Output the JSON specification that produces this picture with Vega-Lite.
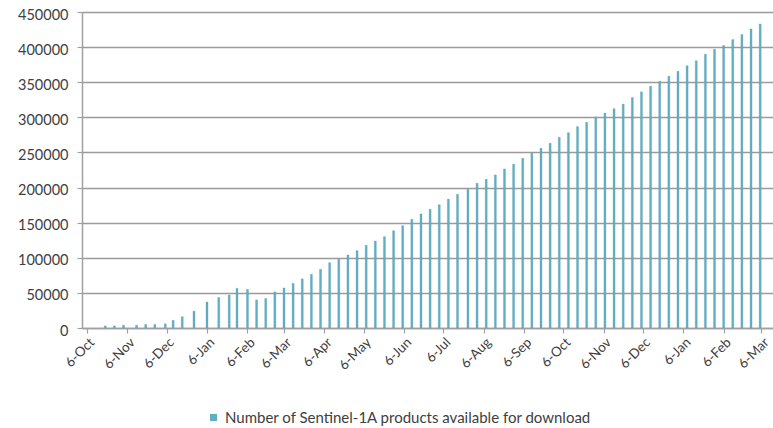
{
  "$schema": "https://vega.github.io/schema/vega-lite/v6.json",
  "autosize": {"type": "none"},
  "padding": {"left": 82, "top": 12, "right": 0, "bottom": 100},
  "width": 691,
  "height": 316,
  "background": "white",
  "data": {"values": [
    {"date": "2014-10-20", "products": 3000},
    {"date": "2014-10-27", "products": 3000},
    {"date": "2014-11-03", "products": 4000},
    {"date": "2014-11-13", "products": 4000},
    {"date": "2014-11-20", "products": 5000},
    {"date": "2014-11-27", "products": 5000},
    {"date": "2014-12-05", "products": 6000},
    {"date": "2014-12-11", "products": 11000},
    {"date": "2014-12-18", "products": 16000},
    {"date": "2014-12-27", "products": 24000},
    {"date": "2015-01-06", "products": 37000},
    {"date": "2015-01-15", "products": 43500},
    {"date": "2015-01-23", "products": 47000},
    {"date": "2015-01-29", "products": 56500},
    {"date": "2015-02-06", "products": 55000},
    {"date": "2015-02-13", "products": 40000},
    {"date": "2015-02-20", "products": 42000},
    {"date": "2015-02-27", "products": 51500},
    {"date": "2015-03-06", "products": 57000},
    {"date": "2015-03-13", "products": 63500},
    {"date": "2015-03-20", "products": 70000},
    {"date": "2015-03-27", "products": 76500},
    {"date": "2015-04-03", "products": 83600},
    {"date": "2015-04-10", "products": 93000},
    {"date": "2015-04-17", "products": 97900},
    {"date": "2015-04-24", "products": 104000},
    {"date": "2015-05-01", "products": 110100},
    {"date": "2015-05-08", "products": 117800},
    {"date": "2015-05-15", "products": 123900},
    {"date": "2015-05-22", "products": 130100},
    {"date": "2015-05-29", "products": 138600},
    {"date": "2015-06-05", "products": 145700},
    {"date": "2015-06-12", "products": 154800},
    {"date": "2015-06-19", "products": 162400},
    {"date": "2015-06-26", "products": 169100},
    {"date": "2015-07-03", "products": 175500},
    {"date": "2015-07-10", "products": 183500},
    {"date": "2015-07-17", "products": 190400},
    {"date": "2015-07-25", "products": 197600},
    {"date": "2015-08-01", "products": 206100},
    {"date": "2015-08-08", "products": 211800},
    {"date": "2015-08-15", "products": 218000},
    {"date": "2015-08-22", "products": 226500},
    {"date": "2015-08-29", "products": 233200},
    {"date": "2015-09-05", "products": 241700},
    {"date": "2015-09-12", "products": 248800},
    {"date": "2015-09-19", "products": 256000},
    {"date": "2015-09-26", "products": 263100},
    {"date": "2015-10-03", "products": 271600},
    {"date": "2015-10-10", "products": 278200},
    {"date": "2015-10-17", "products": 286800},
    {"date": "2015-10-24", "products": 293000},
    {"date": "2015-10-31", "products": 300500},
    {"date": "2015-11-07", "products": 306000},
    {"date": "2015-11-14", "products": 312300},
    {"date": "2015-11-21", "products": 318800},
    {"date": "2015-11-28", "products": 328200},
    {"date": "2015-12-05", "products": 336300},
    {"date": "2015-12-12", "products": 344400},
    {"date": "2015-12-19", "products": 351400},
    {"date": "2015-12-26", "products": 358500},
    {"date": "2016-01-02", "products": 365500},
    {"date": "2016-01-09", "products": 373500},
    {"date": "2016-01-16", "products": 380600},
    {"date": "2016-01-23", "products": 389900},
    {"date": "2016-01-30", "products": 396900},
    {"date": "2016-02-06", "products": 402300},
    {"date": "2016-02-13", "products": 410700},
    {"date": "2016-02-20", "products": 417800},
    {"date": "2016-02-27", "products": 425800},
    {"date": "2016-03-05", "products": 433000}
  ]},
  "mark": {"type": "bar", "width": 2, "stroke": "#4a98b0", "strokeWidth": 0.3},
  "encoding": {
    "x": {
      "field": "date",
      "type": "temporal",
      "title": null,
      "scale": {"type": "utc", "domain": [{"year": 2014, "month": 10, "date": 6, "utc": true}, {"year": 2016, "month": 3, "date": 11, "utc": true}]},
      "axis": {
        "values": [
          {"year": 2014, "month": 10, "date": 6, "utc": true},
          {"year": 2014, "month": 11, "date": 6, "utc": true},
          {"year": 2014, "month": 12, "date": 6, "utc": true},
          {"year": 2015, "month": 1, "date": 6, "utc": true},
          {"year": 2015, "month": 2, "date": 6, "utc": true},
          {"year": 2015, "month": 3, "date": 6, "utc": true},
          {"year": 2015, "month": 4, "date": 6, "utc": true},
          {"year": 2015, "month": 5, "date": 6, "utc": true},
          {"year": 2015, "month": 6, "date": 6, "utc": true},
          {"year": 2015, "month": 7, "date": 6, "utc": true},
          {"year": 2015, "month": 8, "date": 6, "utc": true},
          {"year": 2015, "month": 9, "date": 6, "utc": true},
          {"year": 2015, "month": 10, "date": 6, "utc": true},
          {"year": 2015, "month": 11, "date": 6, "utc": true},
          {"year": 2015, "month": 12, "date": 6, "utc": true},
          {"year": 2016, "month": 1, "date": 6, "utc": true},
          {"year": 2016, "month": 2, "date": 6, "utc": true},
          {"year": 2016, "month": 3, "date": 6, "utc": true}
        ],
        "labelExpr": "utcFormat(datum.value, '%-d-%b')",
        "labelAngle": -45,
        "labelAlign": "right",
        "labelBaseline": "top",
        "labelFont": "Lato",
        "labelFontSize": 13.5,
        "labelColor": "#404040",
        "labelPadding": 2,
        "labelOverlap": false,
        "grid": false,
        "tickSize": 5,
        "tickColor": "#a0a0a0",
        "tickWidth": 1.2,
        "domainColor": "#a0a0a0",
        "domainWidth": 1.5
      }
    },
    "y": {
      "field": "products",
      "type": "quantitative",
      "title": null,
      "scale": {"domain": [0, 450000], "nice": false},
      "axis": {
        "values": [0, 50000, 100000, 150000, 200000, 250000, 300000, 350000, 400000, 450000],
        "format": "d",
        "labelFont": "Lato",
        "labelFontSize": 14.5,
        "labelColor": "#404040",
        "labelPadding": 9,
        "labelOffset": 3,
        "tickSize": 5,
        "tickColor": "#a0a0a0",
        "tickWidth": 1.2,
        "domainColor": "#a0a0a0",
        "domainWidth": 1.5,
        "grid": true,
        "gridColor": "#9a9a9a",
        "gridWidth": 1.5
      }
    },
    "color": {
      "datum": "Number of Sentinel-1A products available for download",
      "type": "nominal",
      "scale": {"range": ["#62afc5"]},
      "legend": {
        "title": null,
        "orient": "none",
        "legendX": 124,
        "legendY": 398,
        "direction": "horizontal",
        "symbolType": "square",
        "symbolSize": 50,
        "symbolStrokeWidth": 0,
        "symbolFillColor": "#4bb0cc",
        "labelFont": "Lato",
        "labelFontSize": 15,
        "labelColor": "#404040",
        "labelLimit": 600
      }
    }
  },
  "config": {"view": {"stroke": null}}
}
